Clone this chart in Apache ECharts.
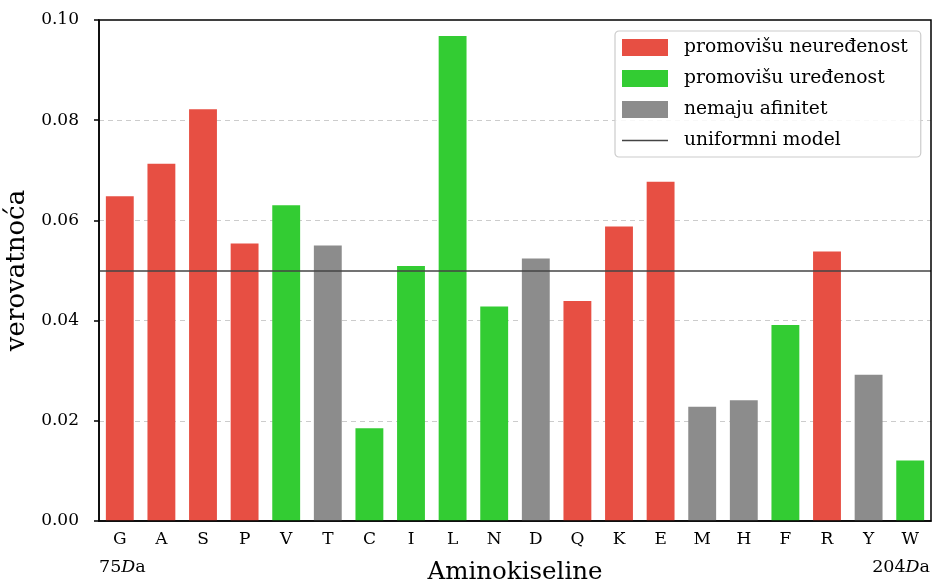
<!DOCTYPE html>
<html>
<head>
<meta charset="utf-8">
<script src="https://cdn.jsdelivr.net/npm/echarts@6/dist/echarts.min.js"></script>
<style>html,body{margin:0;padding:0;background:#fff}#c{width:933px;height:582px}</style>
</head>
<body>
<div id="c"></div>
<script>
const categories = ['G','A','S','P','V','T','C','I','L','N','D','Q','K','E','M','H','F','R','Y','W'];
const values = [0.0648,0.0713,0.0822,0.0554,0.0630,0.0550,0.0185,0.0509,0.0968,0.0428,0.0524,0.0439,0.0588,0.0677,0.0228,0.0241,0.0391,0.0538,0.0292,0.0121];
// 0 = promovišu neuređenost, 1 = promovišu uređenost, 2 = nemaju afinitet
const groups = [0,0,0,0,1,2,1,1,1,1,2,0,0,0,2,2,1,0,2,1];
const groupNames = ['promovišu neuređenost','promovišu uređenost','nemaju afinitet'];
const uniformName = 'uniformni model';
const uniformValue = 0.05;
const yTicks = [0,0.02,0.04,0.06,0.08,0.10];

const colors = ['#e74f43','#33cc33','#8c8c8c'];
const FONT = 'DejaVu Serif';

const barSeries = groupNames.map((name, g) => ({
  name: name,
  type: 'bar',
  stack: 'all',
  barWidth: '67%',
  itemStyle: {color: colors[g]},
  data: values.map((v, i) => groups[i] === g ? v : '-'),
  z: 2
}));
barSeries[0].markLine = {
  silent: true,
  symbol: ['none','none'],
  label: {show: false},
  lineStyle: {color: '#444', width: 1.5, type: 'solid'},
  data: [{yAxis: uniformValue}],
  z: 5
};

const chart = echarts.init(document.getElementById('c'), null, {renderer: 'canvas'});
chart.setOption({
  animation: false,
  textStyle: {fontFamily: FONT},
  grid: {left: 99, right: 2, top: 20, bottom: 61, containLabel: false, outerBoundsMode: 'none',
         show: true, borderColor: '#000', borderWidth: 1.5, backgroundColor: 'transparent', z: 10},
  legend: {
    orient: 'vertical',
    left: 615, top: 31,
    padding: [7, 13, 7, 7],
    itemWidth: 46, itemHeight: 17, itemGap: 12,
    backgroundColor: 'rgba(255,255,255,0.85)',
    borderColor: '#cccccc', borderWidth: 1.2, borderRadius: 4,
    textStyle: {fontFamily: FONT, fontSize: 18.7, color: '#000', padding: [0,0,0,11]},
    data: [
      {name: groupNames[0], icon: 'rect'},
      {name: groupNames[1], icon: 'rect'},
      {name: groupNames[2], icon: 'rect'},
      {name: uniformName, icon: 'path://M0,0 L46,0 L46,1.6 L0,1.6 Z'}
    ]
  },
  xAxis: {
    type: 'category',
    data: categories,
    name: 'Aminokiseline',
    nameLocation: 'middle',
    nameGap: 39,
    nameTextStyle: {fontFamily: FONT, fontSize: 24.5, color: '#000'},
    axisLine: {lineStyle: {color: '#000', width: 1.5}},
    axisTick: {show: false},
    axisLabel: {fontFamily: FONT, fontSize: 17, color: '#000', margin: 10}
  },
  yAxis: {
    type: 'value',
    min: yTicks[0], max: yTicks[yTicks.length-1], interval: 0.02,
    name: 'verovatnoća',
    nameLocation: 'middle',
    nameGap: 58,
    nameTextStyle: {fontFamily: FONT, fontSize: 26, color: '#000'},
    axisLine: {show: true, lineStyle: {color: '#000', width: 1.5}},
    axisTick: {show: true, length: 5, lineStyle: {color: '#000', width: 1.5}},
    axisLabel: {fontFamily: FONT, fontSize: 17, color: '#000', margin: 20, formatter: v => v.toFixed(2)},
    splitLine: {show: true, showMinLine: false, showMaxLine: false, lineStyle: {color: '#cccccc', type: [5, 4], width: 1}}
  },
  graphic: [
    {type: 'text', left: 99, top: 558, style: {text: '75{i|D}a', fontFamily: FONT, fontSize: 17.5, fill: '#000', rich: {i: {fontStyle: 'italic', fontFamily: FONT, fontSize: 17.5}}}},
    {type: 'text', right: 3, top: 558, style: {text: '204{i|D}a', fontFamily: FONT, fontSize: 17.5, fill: '#000', rich: {i: {fontStyle: 'italic', fontFamily: FONT, fontSize: 17.5}}}}
  ],
  series: barSeries.concat([{
    name: uniformName,
    type: 'line',
    symbol: 'none',
    showSymbol: false,
    lineStyle: {color: '#444', width: 1.5},
    itemStyle: {color: '#444'},
    data: []
  }])
});
</script>
</body>
</html>
